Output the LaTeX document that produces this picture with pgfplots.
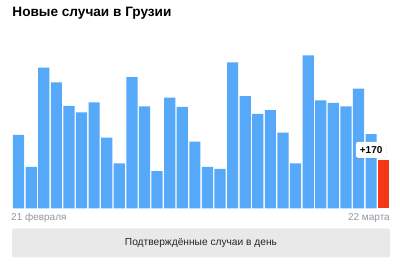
\documentclass[border=0pt]{standalone}
\usepackage{pgfplots}
\pgfplotsset{compat=1.18}
\usepackage{fontspec}
\setmainfont{Liberation Sans}
\usetikzlibrary{shadows}
\definecolor{barblue}{RGB}{86,168,248}
\definecolor{barred}{RGB}{244,56,22}
\definecolor{dategray}{RGB}{150,150,165}
\definecolor{boxgray}{RGB}{233,233,233}
\begin{document}
\begin{tikzpicture}[x=1pt,y=1pt]
\path[use as bounding box,fill=white] (0,0) rectangle (400,270);
\node[anchor=base west,inner sep=0pt,font=\fontsize{13.6}{15}\selectfont\bfseries] at (12.3,253.3) {Новые случаи в Грузии};
\begin{axis}[
  at={(12.3pt,61.7pt)}, anchor=south west,
  scale only axis, width=377.7pt, height=169.4pt,
  xmin=0.5, xmax=30.5, ymin=0, ymax=600,
  axis lines=none, ticks=none,
  ybar, bar width=11.2pt, bar shift=0pt,
  clip=false,
]
\addplot[draw=none, fill=barblue] coordinates {
(1,260) (2,147) (3,498) (4,446) (5,363) (6,340) (7,375) (8,250) (9,159) (10,465)
(11,361) (12,132) (13,392) (14,359) (15,236) (16,147) (17,140) (18,517) (19,397) (20,334)
(21,348) (22,268) (23,159) (24,542) (25,382) (26,373) (27,361) (28,424) (29,263)
};
\addplot[draw=none, fill=barred] coordinates {(30,170)};
\node[fill=white, rounded corners=2.5pt, inner xsep=4pt, inner ysep=4.5pt,
  drop shadow={shadow xshift=0pt, shadow yshift=-0.5pt, opacity=0.25, fill=black!60},
  font=\fontsize{10}{11}\selectfont\bfseries] at (axis cs:29.0,207) {+170};
\end{axis}
\node[anchor=base west,inner sep=0pt,text=dategray,font=\fontsize{10}{11}\selectfont] at (11,49) {21 февраля};
\node[anchor=base east,inner sep=0pt,text=dategray,font=\fontsize{10}{11}\selectfont] at (390,49) {22 марта};
\fill[boxgray, rounded corners=2pt] (12,12.5) rectangle (390,41.5);
\node[inner sep=0pt,text=black!85,font=\fontsize{10.2}{11}\selectfont] at (201,27) {Подтверждённые случаи в день};
\end{tikzpicture}
\end{document}
